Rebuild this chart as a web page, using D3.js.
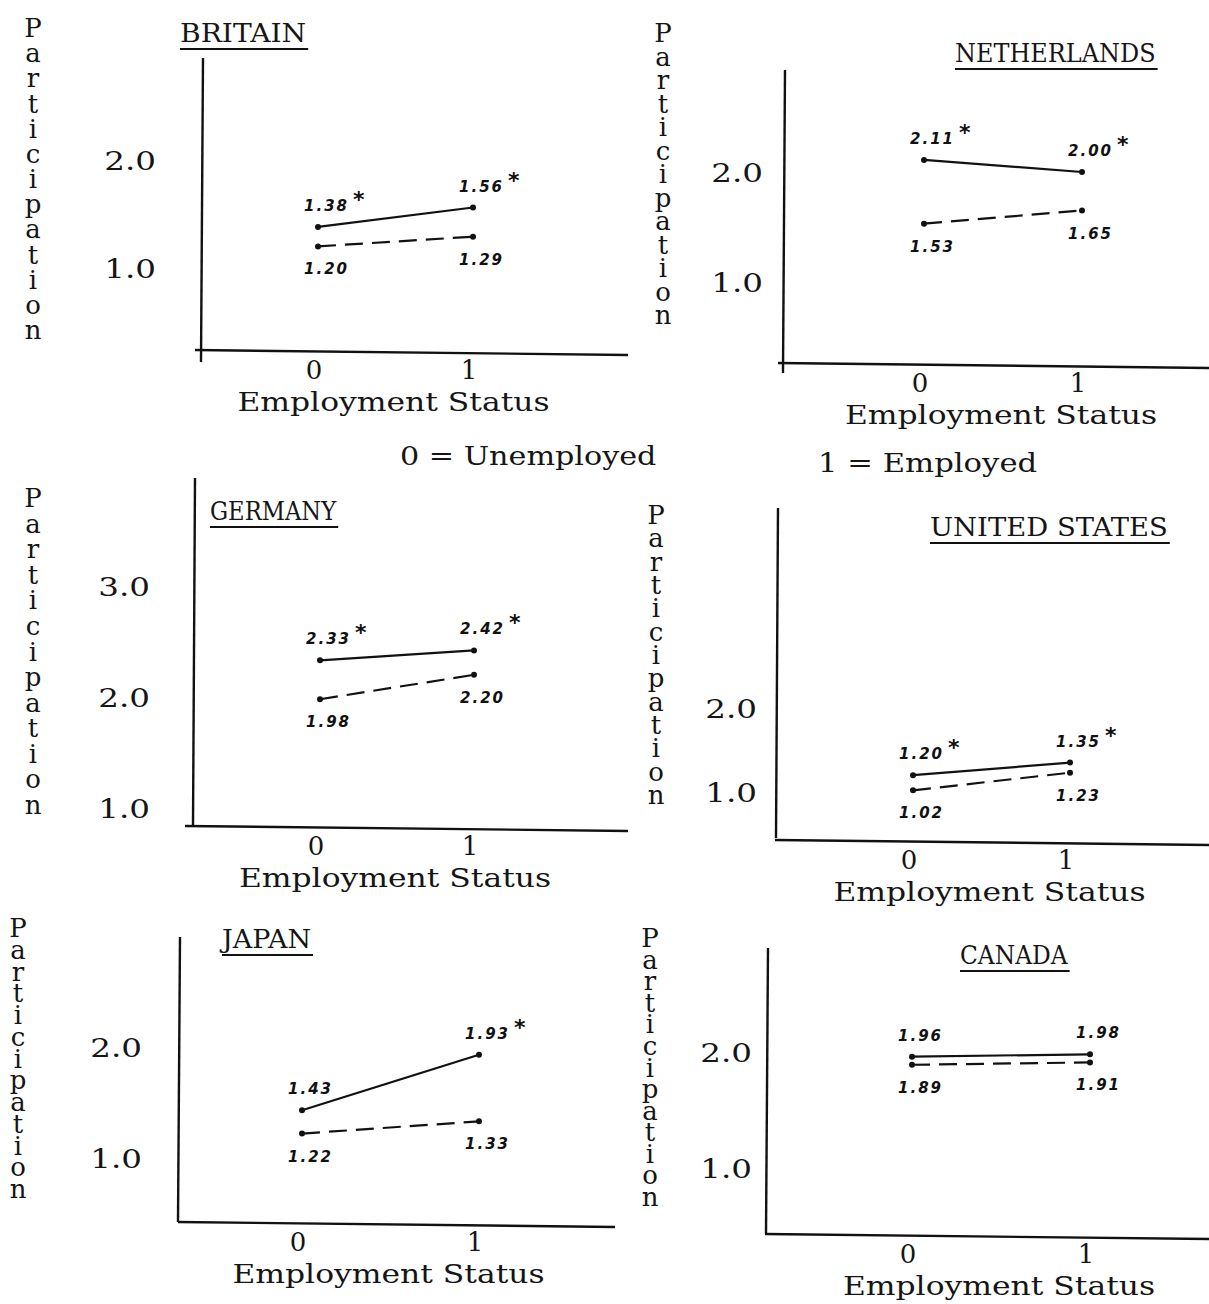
<!DOCTYPE html>
<html>
<head>
<meta charset="utf-8">
<script src="https://cdn.jsdelivr.net/npm/d3@7"></script>
<style>
    html, body { margin: 0; padding: 0; background: #fff; }
    svg { display: block; }
    .type { font-family: "DejaVu Serif", "Liberation Serif", serif; font-size: 26px; fill: #151515; }
    .vert { writing-mode: vertical-rl; text-orientation: upright; }
    .hand { font-family: "DejaVu Sans", sans-serif; font-style: italic; font-weight: bold; font-size: 15px; fill: #111; letter-spacing: 2px; }
    .star { font-family: "DejaVu Sans", sans-serif; font-weight: bold; font-size: 22px; fill: #111; }
</style>
</head>
<body>
<div id="chart"></div>
<script>
// ============================================================================
// data
// ============================================================================

const countries = ["BRITAIN", "NETHERLANDS", "GERMANY", "UNITED STATES", "JAPAN", "CANADA"];
const statusTicks = [0, 1];

// solid line and dashed line, at status 0 and 1
const solidValues  = [[1.38, 1.56], [2.11, 2.00], [2.33, 2.42], [1.20, 1.35], [1.43, 1.93], [1.96, 1.98]];
const dashedValues = [[1.20, 1.29], [1.53, 1.65], [1.98, 2.20], [1.02, 1.23], [1.22, 1.33], [1.89, 1.91]];
const solidStars   = [[true, true], [true, true], [true, true], [true, true], [false, true], [false, false]];

const yTicks = [[1, 2], [1, 2], [1, 2, 3], [1, 2], [1, 2], [1, 2]];

const axisTitleX = "Employment Status";
const axisTitleY = "Participation";
const legendTexts = ["0 = Unemployed", "1 = Employed"];

// ============================================================================
// layout (pixels) for each panel
// ============================================================================

const layout = [
    { ax: 203, top: 58,  bottom: 362,  xy: 350,  left: 195, right: 628,  x0: 318, x1: 473,  y1: 268,  y2: 160,  tickEnd: 156, titleX: 180, titleY: 42,  labX: 33,  labTop: 25,  labBot: 333 },
    { ax: 785, top: 70,  bottom: 373,  xy: 363,  left: 778, right: 1209, x0: 924, x1: 1082, y1: 282,  y2: 172,  tickEnd: 763, titleX: 955, titleY: 62,  labX: 663, labTop: 30,  labBot: 318 },
    { ax: 195, top: 478, bottom: 826,  xy: 826,  left: 185, right: 628,  x0: 320, x1: 474,  y1: 808,  y2: 697,  tickEnd: 150, titleX: 210, titleY: 520, labX: 33,  labTop: 495, labBot: 808 },
    { ax: 778, top: 508, bottom: 838,  xy: 840,  left: 775, right: 1209, x0: 913, x1: 1070, y1: 792,  y2: 708,  tickEnd: 757, titleX: 930, titleY: 536, labX: 656, labTop: 512, labBot: 798 },
    { ax: 180, top: 937, bottom: 1222, xy: 1222, left: 178, right: 615,  x0: 302, x1: 479,  y1: 1158, y2: 1047, tickEnd: 142, titleX: 222, titleY: 948, labX: 18,  labTop: 925, labBot: 1192 },
    { ax: 768, top: 948, bottom: 1234, xy: 1234, left: 765, right: 1209, x0: 912, x1: 1090, y1: 1168, y2: 1052, tickEnd: 752, titleX: 960, titleY: 964, labX: 650, labTop: 935, labBot: 1200 }
];

const pitch = 18.6; // typewriter character pitch

// ============================================================================
// drawing
// ============================================================================

const width = 1209, height = 1304;
const fmt = d3.format(".2f");

const svg = d3.select("#chart")
    .append("svg")
    .attr("width", width)
    .attr("height", height);

svg.append("rect").attr("width", width).attr("height", height).attr("fill", "#fff");

// typewriter text with fixed pitch (glyphs stretched to the pitch)
function typeText(parent, x, y, str, anchor) {
    const t = parent.append("text")
        .attr("class", "type")
        .attr("x", x).attr("y", y)
        .attr("text-anchor", anchor || "start")
        .text(str);
    if (str.length > 1) {
        t.attr("textLength", str.length * pitch - 4)
         .attr("lengthAdjust", "spacingAndGlyphs");
    }
    return t;
}

countries.forEach((name, i) => drawPanel(i, name));

// legend line between the rows
typeText(svg, 400, 465, legendTexts[0]);
typeText(svg, 818, 472, legendTexts[1]);

function drawPanel(i, name) {
    const L = layout[i];
    const g = svg.append("g");

    const x = d3.scaleLinear().domain([0, 1]).range([L.x0, L.x1]);
    const y = d3.scaleLinear().domain([1, 2]).range([L.y1, L.y2]);

    // axes lines
    g.append("line")
        .attr("x1", L.ax).attr("x2", L.ax - 2)
        .attr("y1", L.top).attr("y2", L.bottom)
        .attr("stroke", "#111").attr("stroke-width", 2.4);
    g.append("line")
        .attr("x1", L.left).attr("x2", L.right)
        .attr("y1", L.xy).attr("y2", L.xy + 5)
        .attr("stroke", "#111").attr("stroke-width", 2.4);

    // title, underlined
    typeText(g, L.titleX, L.titleY, name);
    g.append("line")
        .attr("x1", L.titleX).attr("x2", L.titleX + name.length * pitch - 2)
        .attr("y1", L.titleY + 7).attr("y2", L.titleY + 7)
        .attr("stroke", "#111").attr("stroke-width", 2);

    // y tick labels
    yTicks[i].forEach(v => {
        typeText(g, L.tickEnd, y(v) + 10, d3.format(".1f")(v), "end");
    });

    // x tick labels
    statusTicks.forEach(v => {
        typeText(g, x(v) - 4, L.xy + 29, String(v), "middle");
    });

    // x axis title
    typeText(g, (L.x0 + L.x1) / 2 - 2, L.xy + 61, axisTitleX, "middle");

    // y axis title, stacked upright letters
    g.append("text")
        .attr("class", "type vert")
        .attr("x", L.labX)
        .attr("y", L.labTop - 12)
        .attr("textLength", L.labBot - L.labTop + 24)
        .attr("lengthAdjust", "spacing")
        .text(axisTitleY);

    // series
    const line = d3.line().x((d, k) => x(statusTicks[k])).y(d => y(d));

    g.append("path")
        .attr("d", line(solidValues[i]))
        .attr("fill", "none").attr("stroke", "#111").attr("stroke-width", 2.2);
    g.append("path")
        .attr("d", line(dashedValues[i]))
        .attr("fill", "none").attr("stroke", "#111").attr("stroke-width", 2.2)
        .attr("stroke-dasharray", "18 9");

    [solidValues[i], dashedValues[i]].forEach(vals => {
        g.selectAll(null)
            .data(vals)
            .join("circle")
            .attr("cx", (d, k) => x(statusTicks[k]))
            .attr("cy", d => y(d))
            .attr("r", 3)
            .attr("fill", "#111");
    });

    // value labels: solid above, dashed below
    solidValues[i].forEach((v, k) => {
        const lx = x(statusTicks[k]) - 14;
        const t = g.append("text")
            .attr("class", "hand")
            .attr("x", lx).attr("y", y(v) - 16)
            .text(fmt(v));
        if (solidStars[i][k]) {
            const w = t.node().getComputedTextLength();
            g.append("text")
                .attr("class", "star")
                .attr("x", lx + w + 4).attr("y", y(v) - 20)
                .text("*");
        }
    });
    dashedValues[i].forEach((v, k) => {
        g.append("text")
            .attr("class", "hand")
            .attr("x", x(statusTicks[k]) - 14).attr("y", y(v) + 28)
            .text(fmt(v));
    });
}
</script>
</body>
</html>
